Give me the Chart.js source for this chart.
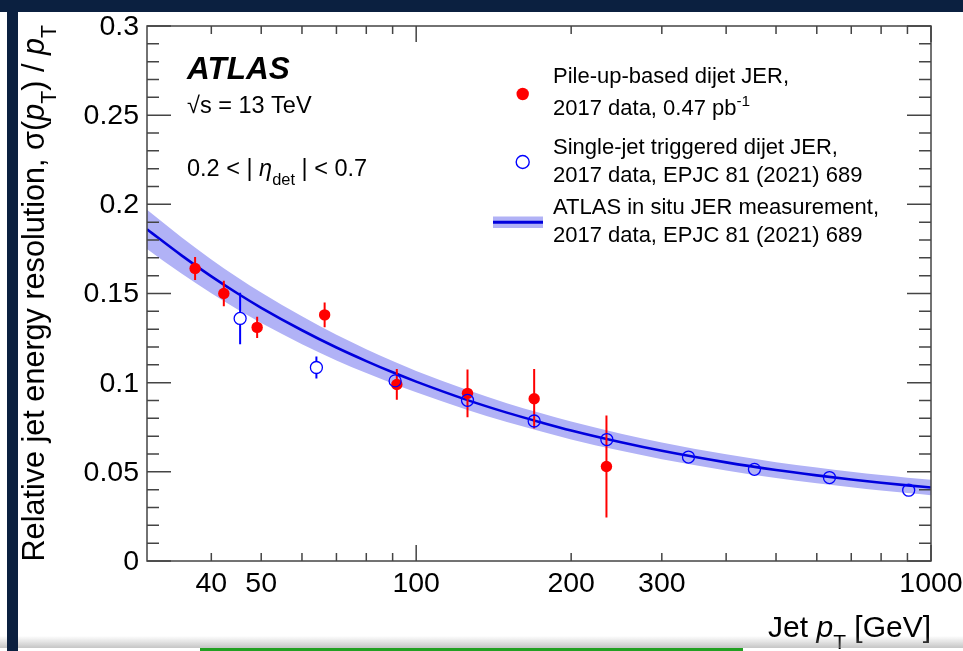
<!DOCTYPE html>
<html>
<head>
<meta charset="utf-8">
<script src="https://cdn.jsdelivr.net/npm/chart.js@4"></script>
<style>
  html, body { margin: 0; padding: 0; background: #fff; }
  body { width: 963px; height: 651px; position: relative; overflow: hidden; }
  #chart { position: absolute; left: 0; top: 0; }
  .deco { position: absolute; z-index: 2; }
</style>
</head>
<body>
<canvas id="chart" width="963" height="651"></canvas>
<div class="deco" style="left:0;top:636px;width:963px;height:12px;background:linear-gradient(rgba(255,255,255,0),rgba(150,150,150,0.55))"></div>
<div class="deco" style="left:200px;top:648px;width:543px;height:3px;background:#22a022"></div>
<div class="deco" style="left:0;top:0;width:963px;height:12px;background:#0b2040"></div>
<div class="deco" style="left:7px;top:0;width:11px;height:651px;background:#0b2040"></div>
<script>
// pile-up-based dijet JER (red, filled)
const redPt  = [37.2, 42.3, 49.1, 66.4, 91.7, 125.8, 169.5, 234.2];
const redRes = [0.164, 0.150, 0.131, 0.138, 0.099, 0.094, 0.091, 0.053];
const redErr = [0.0064, 0.0071, 0.0059, 0.0069, 0.0086, 0.0134, 0.0167, 0.0286];

// single-jet triggered dijet JER (blue, open)
const bluePt  = [45.5, 64.0, 91.0, 125.8, 169.5, 234.6, 338, 454, 635, 905];
const blueRes = [0.136, 0.1085, 0.101, 0.0901, 0.0785, 0.0681, 0.0583, 0.0514, 0.0468, 0.0397];
const blueErr = [0.0144, 0.0062, 0.002, 0.002, 0.0015, 0.0015, 0.001, 0.001, 0.001, 0.001];

// in situ JER curve + uncertainty band
const fitPt  = [30, 35, 40, 45, 50, 60, 70, 80, 90, 100, 125, 150, 175, 200, 250, 300, 400, 500, 600, 700, 800, 900, 1000];
const fitRes = [0.186, 0.1714, 0.1596, 0.1500, 0.1420, 0.1294, 0.1197, 0.1121, 0.1058, 0.1006, 0.0905, 0.0832, 0.0777, 0.0732, 0.0666, 0.0618, 0.0553, 0.0510, 0.0480, 0.0457, 0.0439, 0.0424, 0.0412];
const fitUnc = [0.0110, 0.0102, 0.0095, 0.0090, 0.0085, 0.0078, 0.0072, 0.0067, 0.0063, 0.0060, 0.0056, 0.0053, 0.0051, 0.0050, 0.0048, 0.0047, 0.0045, 0.0044, 0.0044, 0.0043, 0.0043, 0.0043, 0.0043];

// axes
const yTicks = [0, 0.05, 0.1, 0.15, 0.2, 0.25, 0.3];
const yTickLabels = ['0', '0.05', '0.1', '0.15', '0.2', '0.25', '0.3'];
const xLabelTicks = [40, 50, 100, 200, 300, 1000];
const xMinorTicks = [40, 50, 60, 70, 80, 90, 200, 300, 400, 500, 600, 700, 800, 900];
const xMajorTicks = [100, 1000];

const FONT = '"Liberation Sans", Arial, Helvetica, sans-serif';
const BAND = '#b1b2f6';
const LINE = '#0000dd';

function pts(xs, ys) { return xs.map((x, i) => ({ x: x, y: ys[i] })); }

// text with italic / sub / sup pieces
function richText(ctx, parts, x, y, size, align) {
    const fontFor = p => {
        const s = p.s ? size * 0.7 : size;
        return (p.i ? 'italic ' : '') + (p.b ? 'bold ' : '') + s + 'px ' + FONT;
    };
    let w = 0;
    parts.forEach(p => { ctx.font = fontFor(p); w += ctx.measureText(p.t).width; });
    let cx = align === 'right' ? x - w : (align === 'center' ? x - w / 2 : x);
    ctx.textAlign = 'left';
    ctx.textBaseline = 'alphabetic';
    parts.forEach(p => {
        ctx.font = fontFor(p);
        const dy = p.s === 'sub' ? size * 0.4 : (p.s === 'sup' ? -size * 0.42 : 0);
        ctx.fillText(p.t, cx, y + dy);
        cx += ctx.measureText(p.t).width;
    });
}

function drawBars(ctx, chart, xs, ys, es, color, skipR) {
    const sx = chart.scales.x, sy = chart.scales.y;
    ctx.save();
    ctx.strokeStyle = color;
    ctx.lineWidth = 2;
    xs.forEach((x, i) => {
        const px = sx.getPixelForValue(x);
        const pc = sy.getPixelForValue(ys[i]);
        const pt = sy.getPixelForValue(ys[i] + es[i]);
        const pb = sy.getPixelForValue(ys[i] - es[i]);
        ctx.beginPath();
        if (pc - pt > skipR) { ctx.moveTo(px, pt); ctx.lineTo(px, pc - skipR); }
        if (pb - pc > skipR) { ctx.moveTo(px, pc + skipR); ctx.lineTo(px, pb); }
        ctx.stroke();
    });
    ctx.restore();
}

const rootStyle = {
    id: 'rootStyle',
    beforeDatasetDraw(chart, args) {
        const ctx = chart.ctx;
        if (args.index === 3) drawBars(ctx, chart, redPt, redRes, redErr, '#ff0000', 0);
        if (args.index === 4) drawBars(ctx, chart, bluePt, blueRes, blueErr, '#0000ff', 6);
    },
    afterDraw(chart) {
        const ctx = chart.ctx;
        const a = chart.chartArea;
        const sx = chart.scales.x, sy = chart.scales.y;
        ctx.save();

        // frame
        ctx.strokeStyle = '#444';
        ctx.lineWidth = 1.5;
        ctx.strokeRect(a.left, a.top, a.right - a.left, a.bottom - a.top);

        // y ticks, left and right
        ctx.beginPath();
        for (let k = 0; k <= 30; k++) {
            const py = sy.getPixelForValue(k / 100);
            const len = k % 5 === 0 ? 24 : 12;
            ctx.moveTo(a.left, py); ctx.lineTo(a.left + len, py);
            ctx.moveTo(a.right, py); ctx.lineTo(a.right - len, py);
        }
        // x ticks, bottom and top
        xMinorTicks.forEach(v => {
            const px = sx.getPixelForValue(v);
            ctx.moveTo(px, a.bottom); ctx.lineTo(px, a.bottom - 8);
            ctx.moveTo(px, a.top); ctx.lineTo(px, a.top + 8);
        });
        xMajorTicks.forEach(v => {
            const px = sx.getPixelForValue(v);
            ctx.moveTo(px, a.bottom); ctx.lineTo(px, a.bottom - 16);
            ctx.moveTo(px, a.top); ctx.lineTo(px, a.top + 16);
        });
        ctx.stroke();

        // tick labels
        ctx.fillStyle = '#000';
        ctx.font = '28.5px ' + FONT;
        ctx.textAlign = 'right';
        ctx.textBaseline = 'middle';
        yTicks.forEach((v, i) => ctx.fillText(yTickLabels[i], 139, sy.getPixelForValue(v) + 1));
        ctx.textAlign = 'center';
        ctx.textBaseline = 'alphabetic';
        xLabelTicks.forEach(v => ctx.fillText(String(v), sx.getPixelForValue(v), 592));

        // axis titles
        richText(ctx, [{ t: 'Jet ' }, { t: 'p', i: 1 }, { t: 'T', s: 'sub' }, { t: ' [GeV]' }], 931, 637, 30, 'right');
        ctx.save();
        ctx.translate(43.5, 25);
        ctx.rotate(-Math.PI / 2);
        richText(ctx, [{ t: 'Relative jet energy resolution, σ(' }, { t: 'p', i: 1 }, { t: 'T', s: 'sub' },
                       { t: ') / ' }, { t: 'p', i: 1 }, { t: 'T', s: 'sub' }], 0, 0, 30.6, 'right');
        ctx.restore();

        // labels in the plot
        richText(ctx, [{ t: 'ATLAS', i: 1, b: 1 }], 187, 79, 31.5, 'left');
        richText(ctx, [{ t: '√s = 13 TeV' }], 187, 113, 23.5, 'left');
        richText(ctx, [{ t: '0.2 < | ' }, { t: 'η', i: 1 }, { t: 'det', s: 'sub' }, { t: ' | < 0.7' }], 187, 176, 23.5, 'left');

        // legend
        ctx.fillStyle = '#ff0000';
        ctx.beginPath(); ctx.arc(522.7, 94, 6.2, 0, Math.PI * 2); ctx.fill();
        ctx.strokeStyle = '#0000ff'; ctx.lineWidth = 1.4;
        ctx.beginPath(); ctx.arc(522.7, 162, 6.5, 0, Math.PI * 2); ctx.stroke();
        ctx.fillStyle = BAND;
        ctx.fillRect(493, 216.5, 50, 11.5);
        ctx.strokeStyle = LINE; ctx.lineWidth = 3;
        ctx.beginPath(); ctx.moveTo(493, 222.3); ctx.lineTo(543, 222.3); ctx.stroke();

        ctx.fillStyle = '#000';
        richText(ctx, [{ t: 'Pile-up-based dijet JER,' }], 553, 83, 22, 'left');
        richText(ctx, [{ t: '2017 data, 0.47 pb' }, { t: '-1', s: 'sup' }], 553, 115, 22, 'left');
        richText(ctx, [{ t: 'Single-jet triggered dijet JER,' }], 553, 154, 22, 'left');
        richText(ctx, [{ t: '2017 data, EPJC 81 (2021) 689' }], 553, 182, 22, 'left');
        richText(ctx, [{ t: 'ATLAS in situ JER measurement,' }], 553, 214, 22, 'left');
        richText(ctx, [{ t: '2017 data, EPJC 81 (2021) 689' }], 553, 242, 22, 'left');

        ctx.restore();
    }
};

new Chart(document.getElementById('chart').getContext('2d'), {
    type: 'line',
    data: {
        datasets: [
            { data: pts(fitPt, fitRes.map((v, i) => v + fitUnc[i])), fill: '+1', backgroundColor: BAND,
              borderWidth: 0, pointRadius: 0, cubicInterpolationMode: 'monotone', order: 5 },
            { data: pts(fitPt, fitRes.map((v, i) => v - fitUnc[i])), fill: false,
              borderWidth: 0, pointRadius: 0, cubicInterpolationMode: 'monotone', order: 5 },
            { data: pts(fitPt, fitRes), fill: false, borderColor: LINE, borderWidth: 2.6,
              pointRadius: 0, cubicInterpolationMode: 'monotone', order: 4 },
            { data: pts(redPt, redRes), showLine: false, pointRadius: 5.7, backgroundColor: '#ff0000',
              borderColor: '#ff0000', borderWidth: 0, order: 3 },
            { data: pts(bluePt, blueRes), showLine: false, pointRadius: 6, backgroundColor: 'rgba(0,0,0,0)',
              borderColor: '#0000ff', borderWidth: 1.3, order: 2 }
        ]
    },
    options: {
        responsive: false,
        animation: false,
        devicePixelRatio: 1,
        layout: { padding: { left: 147, top: 26, right: 32, bottom: 90 } },
        plugins: { legend: { display: false }, tooltip: { enabled: false } },
        scales: {
            x: { type: 'logarithmic', min: 30, max: 1000, display: false },
            y: { type: 'linear', min: 0, max: 0.3, display: false }
        }
    },
    plugins: [rootStyle]
});
</script>
</body>
</html>
